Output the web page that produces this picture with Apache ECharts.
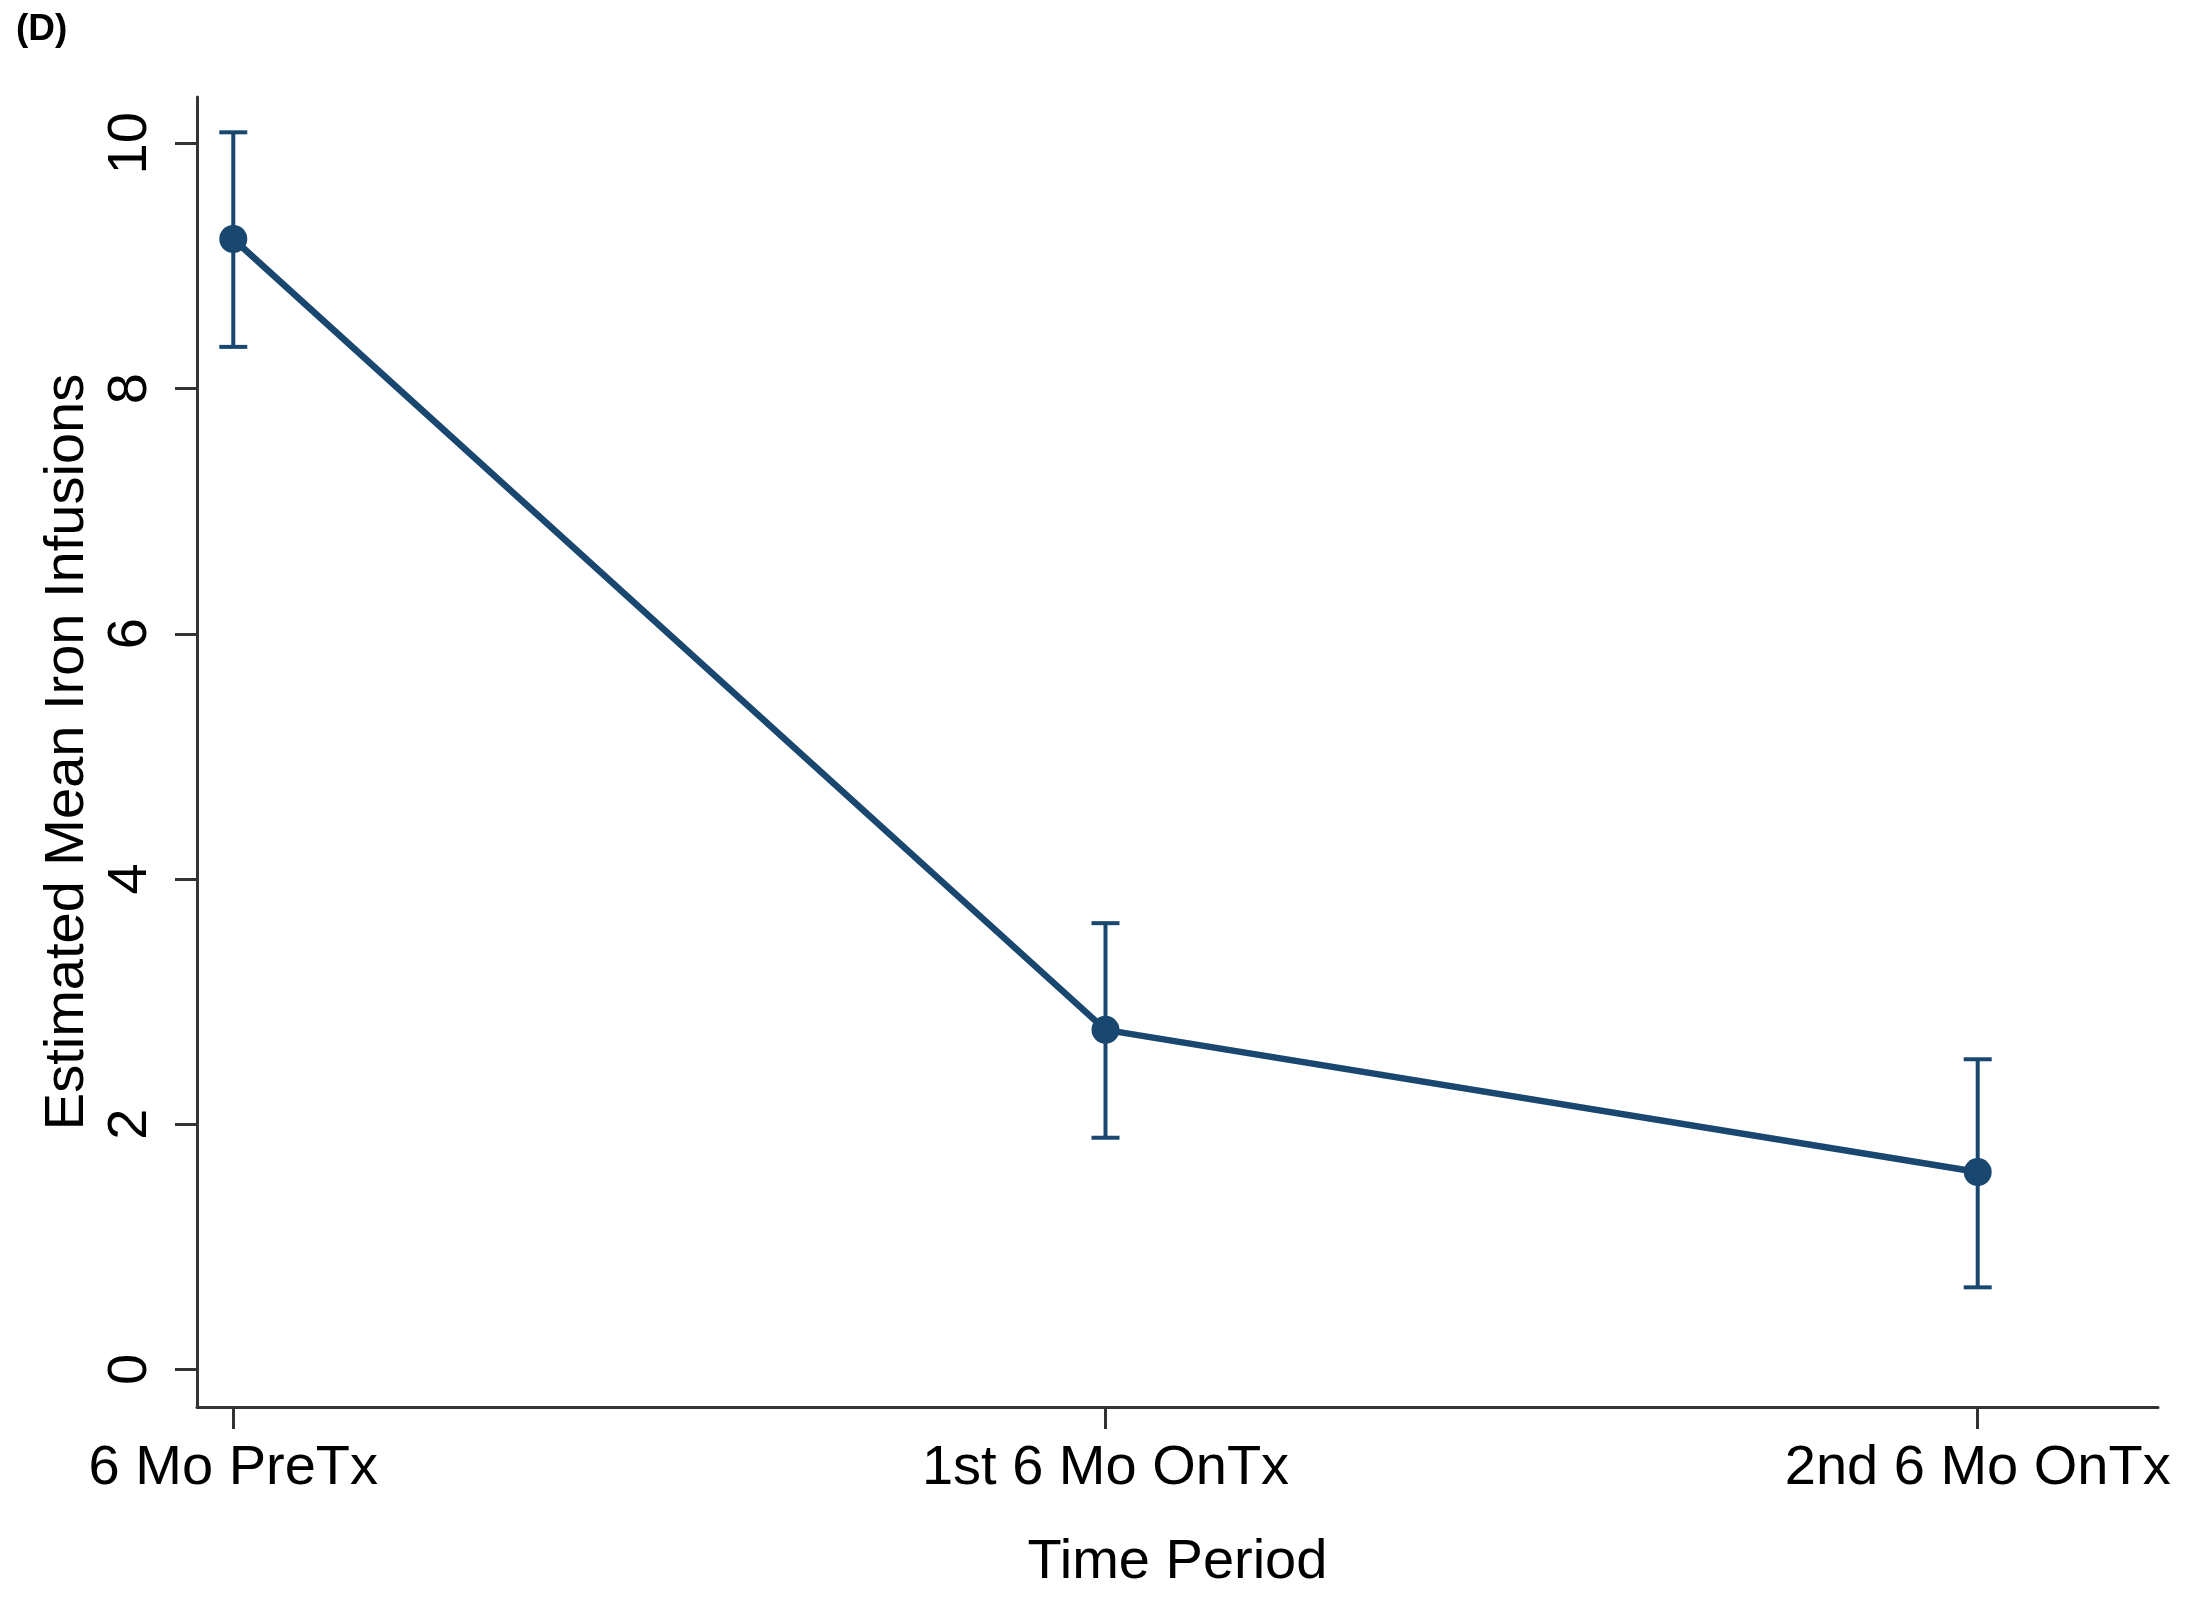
<!DOCTYPE html>
<html>
<head>
<meta charset="utf-8">
<title>Estimated Mean Iron Infusions by Time Period</title>
<script src="https://cdn.jsdelivr.net/npm/echarts@6/dist/echarts.min.js"></script>
<style>
  html, body { margin: 0; padding: 0; background: #fff; }
  #chart { width: 2192px; height: 1598px; }
</style>
</head>
<body>
<div id="chart"></div>
<script>
// Time periods and model estimates with 95% confidence limits
const periods = ['6 Mo PreTx', '1st 6 Mo OnTx', '2nd 6 Mo OnTx'];
const meanInfusions = [9.22, 2.77, 1.61];
const lowerCI = [8.34, 1.89, 0.67];
const upperCI = [10.09, 3.64, 2.53];
const yTicks = [0, 2, 4, 6, 8, 10];
const xTicks = [0, 1, 2];

const NAVY = '#1a476f';
const AXIS = '#333333';
const FONT = '"Liberation Sans", Arial, sans-serif';

const chart = echarts.init(document.getElementById('chart'), null, { renderer: 'canvas' });

const pointData = meanInfusions.map((v, i) => [i, v]);
const barData = meanInfusions.map((v, i) => [i, lowerCI[i], upperCI[i]]);

chart.setOption({
  animation: false,
  backgroundColor: '#ffffff',
  graphic: [{
    type: 'text',
    left: 16,
    top: 11,
    style: { text: '(D)', font: 'bold 37px ' + FONT, fill: '#000' }
  }],
  grid: { left: 197, right: 34, top: 97, bottom: 191, containLabel: false },
  xAxis: {
    type: 'value',
    min: -0.0416,
    max: 2.2067,
    name: 'Time Period',
    nameLocation: 'middle',
    nameGap: 128,
    nameTextStyle: { fontFamily: FONT, fontSize: 56, color: '#000' },
    splitLine: { show: false },
    axisLine: { show: true, onZero: false, lineStyle: { color: AXIS, width: 3 } },
    axisTick: { show: true, customValues: xTicks, length: 22, lineStyle: { color: AXIS, width: 3 } },
    axisLabel: {
      customValues: xTicks,
      margin: 34,
      fontFamily: FONT,
      fontSize: 56,
      color: '#000',
      formatter: v => periods[Math.round(v)] || ''
    }
  },
  yAxis: {
    type: 'value',
    min: -0.306,
    max: 10.378,
    name: 'Estimated Mean Iron Infusions',
    nameLocation: 'middle',
    nameGap: 90,
    nameTextStyle: { fontFamily: FONT, fontSize: 56, color: '#000' },
    splitLine: { show: false },
    axisLine: { show: true, onZero: false, lineStyle: { color: AXIS, width: 3 } },
    axisTick: { show: true, customValues: yTicks, length: 22, lineStyle: { color: AXIS, width: 3 } },
    axisLabel: {
      customValues: yTicks,
      rotate: 90,
      margin: 38,
      fontFamily: FONT,
      fontSize: 56,
      color: '#000'
    }
  },
  series: [
    {
      name: '95% CI',
      type: 'custom',
      z: 2,
      data: barData,
      renderItem: function (params, api) {
        const x = api.value(0);
        const lo = api.coord([x, api.value(1)]);
        const hi = api.coord([x, api.value(2)]);
        const half = 14;
        const style = { stroke: NAVY, lineWidth: 4, fill: null };
        return {
          type: 'group',
          children: [
            { type: 'line', shape: { x1: lo[0], y1: lo[1], x2: hi[0], y2: hi[1] }, style },
            { type: 'line', shape: { x1: lo[0] - half, y1: lo[1], x2: lo[0] + half, y2: lo[1] }, style },
            { type: 'line', shape: { x1: hi[0] - half, y1: hi[1], x2: hi[0] + half, y2: hi[1] }, style }
          ]
        };
      }
    },
    {
      name: 'Estimated mean',
      type: 'line',
      z: 3,
      data: pointData,
      symbol: 'circle',
      symbolSize: 28,
      lineStyle: { color: NAVY, width: 6.5 },
      itemStyle: { color: NAVY, borderWidth: 0 }
    }
  ]
});
</script>
</body>
</html>
